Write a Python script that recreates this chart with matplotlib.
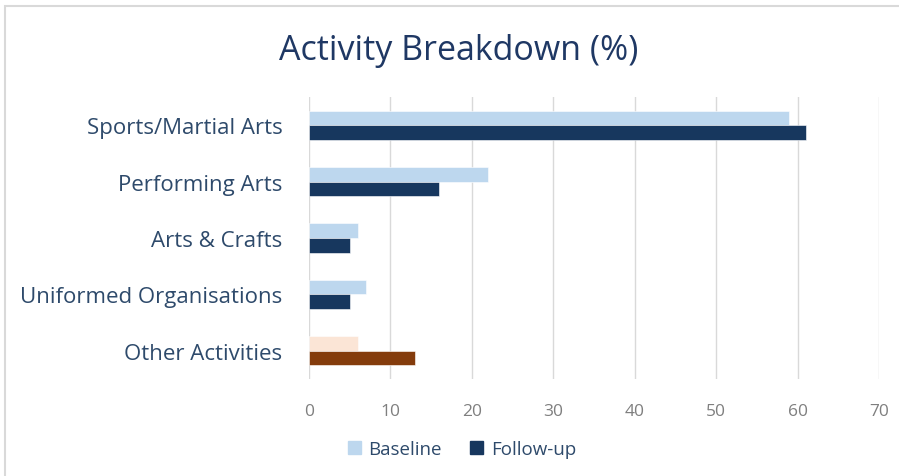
import matplotlib
matplotlib.use("Agg")
from matplotlib import pyplot as plt
from matplotlib.patches import Rectangle
import numpy as np

categories = ["Sports/Martial Arts", "Performing Arts", "Arts & Crafts",
              "Uniformed Organisations", "Other Activities"]
baseline = [59, 22, 6, 7, 6]
followup = [61, 16, 5, 5, 13]
xticks = [0, 10, 20, 30, 40, 50, 60, 70]

base_colors = ["#BDD7EE"] * 4 + ["#FBE5D6"]
fu_colors = ["#17375E"] * 4 + ["#843C0C"]

plt.rcParams['font.family'] = ['Open Sans', 'DejaVu Sans']

fig = plt.figure(figsize=(8.99, 4.77), dpi=100)
# chart frame (top/left edges visible)
fig.patches.append(Rectangle((5/899, -0.1), 1.2, 1 - 7/477 + 0.1, transform=fig.transFigure,
                             fill=False, edgecolor="#D9D9D9", linewidth=1.5))

ax = fig.add_axes([309/899, 1 - 380/477, 570/899, 282/477])
y = np.arange(len(categories))
h = 0.26
ax.barh(y - h/2, baseline, height=h, color=base_colors, edgecolor="white", linewidth=0.4, zorder=3)
ax.barh(y + h/2, followup, height=h, color=fu_colors, edgecolor="white", linewidth=0.4, zorder=3)

ax.set_xlim(0, 70)
ax.set_ylim(len(categories) - 0.5, -0.5)
ax.set_xticks(xticks)
ax.set_yticks(y)
ax.set_yticklabels(categories, fontsize=16, color="#2E4A6B")
ax.tick_params(axis="y", length=0, pad=19)
ax.tick_params(axis="x", length=0, pad=17, labelsize=12.5, labelcolor="#7F7F7F")
ax.grid(axis="x", color="#D9D9D9", linewidth=1, zorder=0)
for s in ax.spines.values():
    s.set_visible(False)

fig.text(459/899, 1 - 51/477, "Activity Breakdown (%)", ha="center", va="center",
         fontsize=24.5, color="#1F3864")

handles = [Rectangle((0, 0), 1, 1, color="#BDD7EE"), Rectangle((0, 0), 1, 1, color="#17375E")]
fig.legend(handles, ["Baseline", "Follow-up"], loc="center", bbox_to_anchor=(462/899, 1 - 450/477),
           ncol=2, frameon=False, handlelength=0.7, handleheight=0.7, handletextpad=0.4,
           columnspacing=1.5, prop={"size": 13.5}, labelcolor="#2E4A6B")

fig.savefig("out.png", dpi=100)
